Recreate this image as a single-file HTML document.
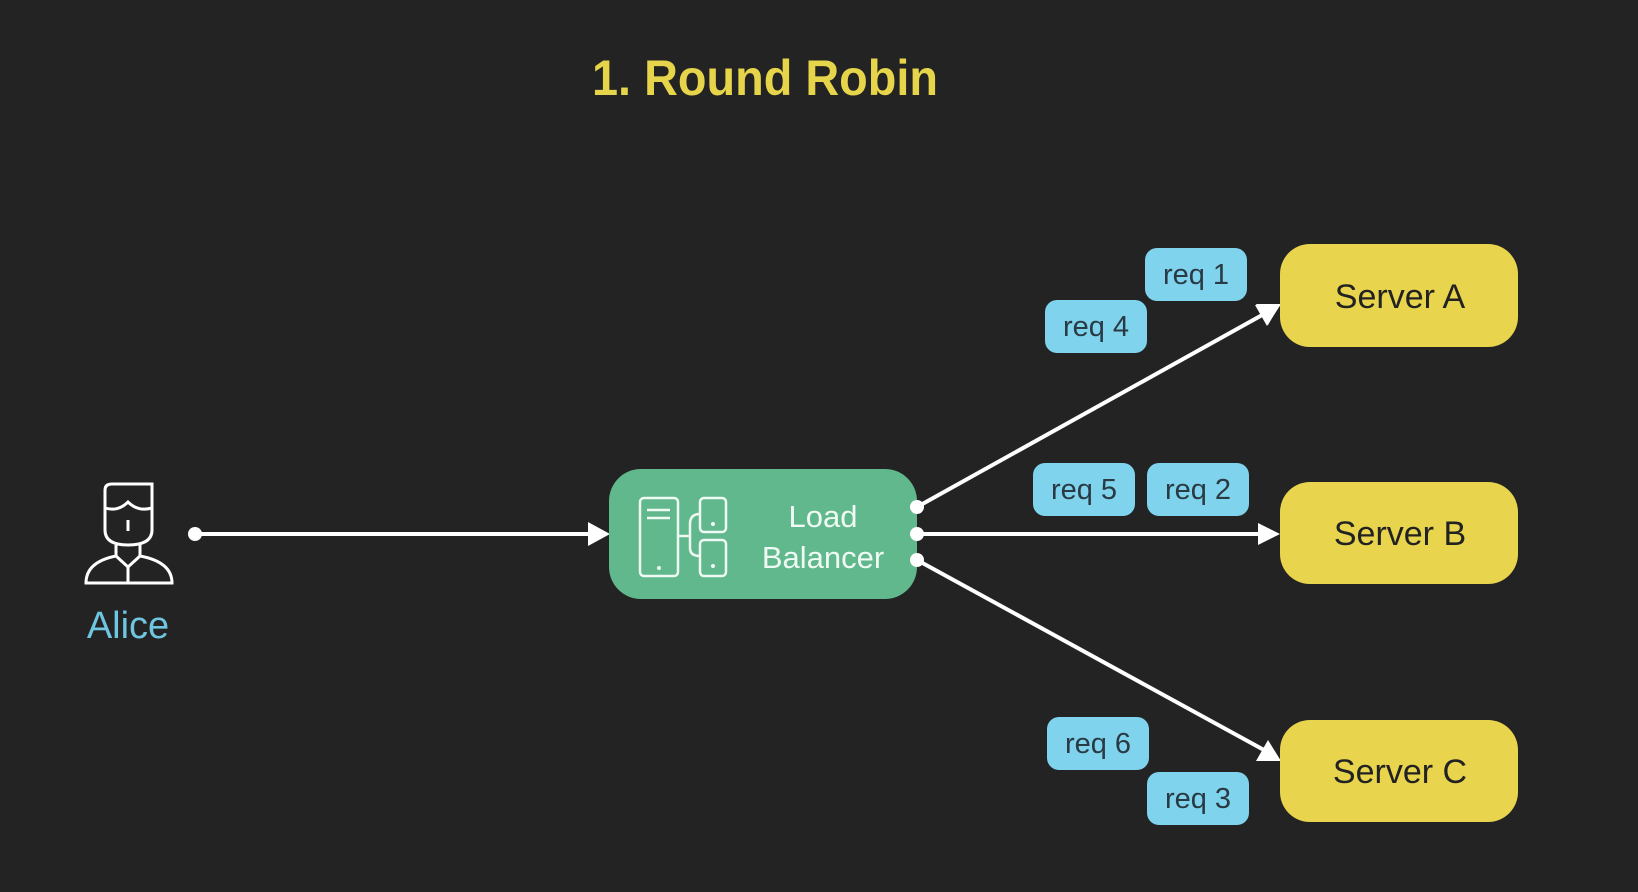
<!DOCTYPE html>
<html><head><meta charset="utf-8"><style>
html,body{margin:0;padding:0;background:#232323;}
svg{display:block;}
text{font-family:"Liberation Sans","DejaVu Sans",sans-serif;}
</style></head><body>
<svg width="1638" height="892" viewBox="0 0 1638 892" xmlns="http://www.w3.org/2000/svg">
<rect width="1638" height="892" fill="#232323"/>
<defs><marker id="ah" markerWidth="10" markerHeight="10" refX="9" refY="5" orient="auto" markerUnits="userSpaceOnUse"><path d="M0,0 L0,0" /></marker></defs>
<text x="765" y="95" text-anchor="middle" font-size="50" font-weight="bold" fill="#e6d44a" textLength="346" lengthAdjust="spacingAndGlyphs">1. Round Robin</text>

<!-- Alice icon -->
<g fill="none" stroke="#ffffff" stroke-width="3">
<path d="M105,490 Q105,484 112,484 L152,484 L152,530 Q152,545 128,545 Q105,545 105,530 Z"/>
<path d="M105,508 Q118,512 128,502 Q138,512 152,508"/>
<line x1="128" y1="520" x2="128" y2="531"/>
<path d="M116,545 L116,556 Q86,562 86,583 L172,583 Q172,562 140,556 L140,545"/>
<path d="M116,556 L128,567 L140,556"/>
<line x1="128" y1="567" x2="128" y2="583"/>
</g>
<text x="128" y="638" text-anchor="middle" font-size="38" fill="#6ec6e0">Alice</text>

<!-- Alice -> LB -->
<circle cx="195" cy="534" r="7" fill="#fff"/>
<line x1="195" y1="534" x2="590" y2="534" stroke="#fff" stroke-width="4"/>
<path d="M588,522 L610,534 L588,546 Z" fill="#fff"/>

<!-- Load Balancer -->
<rect x="609" y="469" width="308" height="130" rx="32" fill="#62b88d"/>
<g fill="none" stroke="#eefaf3" stroke-width="2.5">
<rect x="640" y="498" width="38" height="78" rx="4"/>
<line x1="647" y1="510" x2="670" y2="510"/><line x1="647" y1="518" x2="670" y2="518"/>
<rect x="700" y="498" width="26" height="34" rx="4"/>
<rect x="700" y="540" width="26" height="36" rx="4"/>
<path d="M700,514 Q690,514 690,524 L690,548 Q690,556 700,556"/>
<line x1="678" y1="536" x2="690" y2="536"/>
</g>
<circle cx="659" cy="568" r="2" fill="#eefaf3"/><circle cx="713" cy="524" r="2" fill="#eefaf3"/><circle cx="713" cy="566" r="2" fill="#eefaf3"/>
<text x="823" y="527" text-anchor="middle" font-size="31" fill="#eefaf3">Load</text>
<text x="823" y="568" text-anchor="middle" font-size="31" fill="#eefaf3">Balancer</text>

<!-- connectors -->
<g stroke="#fff" stroke-width="4">
<line x1="917" y1="507" x2="1264" y2="314"/>
<line x1="917" y1="534" x2="1262" y2="534"/>
<line x1="917" y1="560" x2="1264" y2="750"/>
</g>
<path d="M1258,523 L1280,534 L1258,545 Z" fill="#fff"/>
<path d="M1280,304 L1268,325 L1256,304 Z" fill="#fff" transform="rotate(0)"/>
<path d="M1281,304 L1255,305 L1267,326 Z" fill="#fff"/>
<path d="M1281,761 L1268,740 L1256,761 Z" fill="#fff"/>
<circle cx="917" cy="507" r="7" fill="#fff"/>
<circle cx="917" cy="534" r="7" fill="#fff"/>
<circle cx="917" cy="560" r="7" fill="#fff"/>

<!-- Servers -->
<g fill="#e8d44d">
<rect x="1280" y="244" width="238" height="103" rx="30"/>
<rect x="1280" y="482" width="238" height="102" rx="30"/>
<rect x="1280" y="720" width="238" height="102" rx="30"/>
</g>
<g font-size="34" fill="#222" text-anchor="middle">
<text x="1400" y="308">Server A</text>
<text x="1400" y="545">Server B</text>
<text x="1400" y="783">Server C</text>
</g>

<!-- req boxes -->
<g fill="#7fd3ec">
<rect x="1145" y="248" width="102" height="53" rx="12"/>
<rect x="1045" y="300" width="102" height="53" rx="12"/>
<rect x="1033" y="463" width="102" height="53" rx="12"/>
<rect x="1147" y="463" width="102" height="53" rx="12"/>
<rect x="1047" y="717" width="102" height="53" rx="12"/>
<rect x="1147" y="772" width="102" height="53" rx="12"/>
</g>
<g font-size="29" fill="#2a3a44" text-anchor="middle">
<text x="1196" y="284">req 1</text>
<text x="1096" y="336">req 4</text>
<text x="1084" y="499">req 5</text>
<text x="1198" y="499">req 2</text>
<text x="1098" y="753">req 6</text>
<text x="1198" y="808">req 3</text>
</g>
</svg>
</body></html>
